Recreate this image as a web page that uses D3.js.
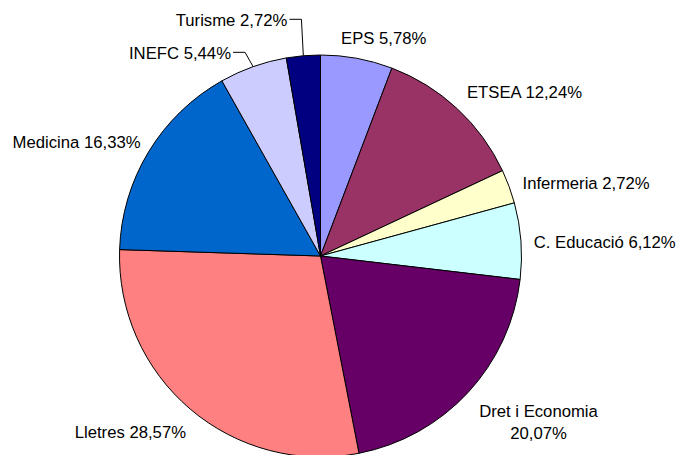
<!DOCTYPE html>
<html>
<head>
<meta charset="utf-8">
<script src="https://cdn.jsdelivr.net/npm/d3@7"></script>
<style>
  html, body { margin: 0; padding: 0; background: #fff; }
  svg { display: block; }
  text { font-family: Arial, "Liberation Sans", sans-serif; font-size: 16.7px; fill: #000; }
</style>
</head>
<body>
<svg id="chart"></svg>
<script>
// --- data ---
const centres = ["EPS", "ETSEA", "Infermeria", "C. Educació", "Dret i Economia", "Lletres", "Medicina", "INEFC", "Turisme"];
const percents = [5.78, 12.24, 2.72, 6.12, 20.07, 28.57, 16.33, 5.44, 2.72];
const colors = ["#9999FF", "#993366", "#FFFFCC", "#CCFFFF", "#660066", "#FF8080", "#0066CC", "#CCCCFF", "#000080"];

// --- layout ---
const width = 681, height = 455;
const cx = 320.5, cy = 256, radius = 201;
// small hand nudges so labels sit where the original put them
const labelNudge = [[17, 0], [20, -1.5], [6, 3.5], [1, 2.5], [18, 8], [-16, 7], [-7, 1], [-52, 6], [-66, -15]];
const withLeader = ["INEFC", "Turisme"];
const twoLine = ["Dret i Economia"];

const fmt = v => v.toFixed(2).replace(".", ",") + "%";

const svg = d3.select("#chart").attr("width", width).attr("height", height);
const g = svg.append("g").attr("transform", `translate(${cx},${cy})`);

const pie = d3.pie().sort(null).value(d => d.value);
const arc = d3.arc().innerRadius(0).outerRadius(radius);
const data = pie(centres.map((c, i) => ({ name: c, value: percents[i], color: colors[i] })));

g.selectAll("path.slice")
  .data(data)
  .join("path")
  .attr("class", "slice")
  .attr("d", arc)
  .attr("fill", d => d.data.color)
  .attr("stroke", "#000")
  .attr("stroke-width", 1);

// labels
const lineH = 22;
data.forEach((d, i) => {
  const mid = (d.startAngle + d.endAngle) / 2;
  const s = Math.sin(mid), c = Math.cos(mid);
  const lines = twoLine.includes(d.data.name) ? [d.data.name, fmt(d.data.value)] : [d.data.name + " " + fmt(d.data.value)];

  const t = g.append("text").attr("text-anchor", "middle");
  lines.forEach((l, k) => t.append("tspan").attr("x", 0).attr("dy", k === 0 ? 0 : lineH).text(l));
  const bb = t.node().getBBox();
  const w = bb.width, h = lines.length * lineH - 5;

  const r = radius + 12;
  const px = r * s, py = -r * c;
  const bx = px + s * w / 2 + labelNudge[i][0];
  const by = py - c * h / 2 + labelNudge[i][1];
  const firstY = by - (lines.length - 1) * lineH / 2;
  t.attr("transform", `translate(${bx},${firstY})`).attr("dominant-baseline", "central");
  t.selectAll("tspan").attr("dominant-baseline", "central");

  if (withLeader.includes(d.data.name)) {
    const ex = radius * s, ey = -radius * c;
    const x0 = bx + w / 2 + 2;
    const y0 = firstY - 1;
    g.append("polyline")
      .attr("points", `${x0},${y0} ${x0 + 12},${y0} ${ex},${ey}`)
      .attr("fill", "none")
      .attr("stroke", "#000")
      .attr("stroke-width", 1);
  }
});
</script>
</body>
</html>
